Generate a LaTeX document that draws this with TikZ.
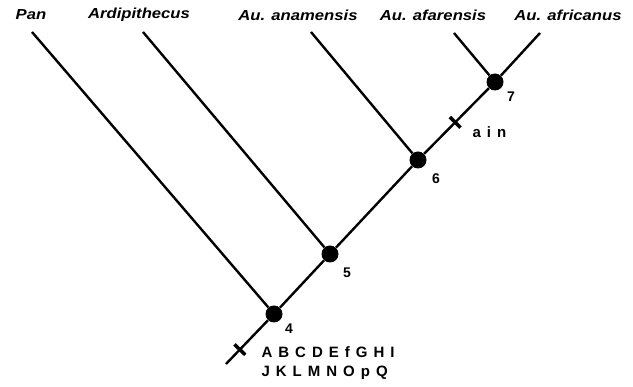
\documentclass[tikz,border=0pt]{standalone}
\usepackage{fontspec}
\setmainfont{Liberation Sans}
\newfontfamily\taxonfont[FakeStretch=1.15]{Liberation Sans}
\newfontfamily\charfont[LetterSpace=40]{Liberation Sans}
\usetikzlibrary{positioning}
\tikzset{
  branch/.style   = {line width=2.4pt, black},
  clade/.style    = {circle, fill=black, inner sep=0pt, minimum size=17pt},
  taxon/.style    = {font=\taxonfont\fontsize{14.5}{16}\selectfont\bfseries\itshape},
  cladeno/.style  = {font=\fontsize{14}{16}\selectfont\bfseries},
  synapo/.style   = {font=\charfont\fontsize{15}{17}\selectfont\bfseries, anchor=west},
  tickmark/.style = {fill=black, sloped, inner sep=0pt, minimum width=3.5pt,
                     minimum height=15pt},
}

\begin{document}
\begin{tikzpicture}[x=1pt, y=-1pt]
  \useasboundingbox (0,0) rectangle (633,387);

  % taxa
  \node[taxon] (pan)   at (31,15)  {Pan};
  \node[taxon] (ardi)  at (139,15) {Ardipithecus};
  \node[taxon] (anam)  at (298,15) {Au. anamensis};
  \node[taxon] (afar)  at (433,15) {Au. afarensis};
  \node[taxon] (afri)  at (568,15) {Au. africanus};

  \coordinate (tpan)  at (32,32);
  \coordinate (tardi) at (143,32);
  \coordinate (tanam) at (311,32);
  \coordinate (tafar) at (454,33);
  \coordinate (tafri) at (540,33);
  \coordinate (root)  at (226,364);

  % clades
  \node[clade] (n4) at (274,314) {};
  \node[clade] (n5) at (330,254) {};
  \node[clade] (n6) at (418,160) {};
  \node[clade] (n7) at (495,82)  {};

  \draw[branch] (tpan)  -- (n4);
  \draw[branch] (tardi) -- (n5);
  \draw[branch] (tanam) -- (n6);
  \draw[branch] (tafar) -- (n7);
  \draw[branch] (tafri) -- (n7);
  \draw[branch] (n4) -- (n5) -- (n6);
  \draw[branch] (n6) -- node[tickmark, pos=0.48] (tick2) {} (n7);
  \draw[branch] (n4) -- node[tickmark, pos=0.67] (tick1) {} (root);

  \node[cladeno] (l4) at (289,329) {4};
  \node[cladeno] (l5) at (347,273) {5};
  \node[cladeno] (l6) at (436,179) {6};
  \node[cladeno] (l7) at (511,97)  {7};

  % characters
  \node[synapo] (chA) at (469,132) {ain};
  \node[synapo] (chB) at (258,352) {ABCDEfGHI};
  \node[synapo] (chC) at (258,373) {JKLMNOpQ};
\end{tikzpicture}
\end{document}
